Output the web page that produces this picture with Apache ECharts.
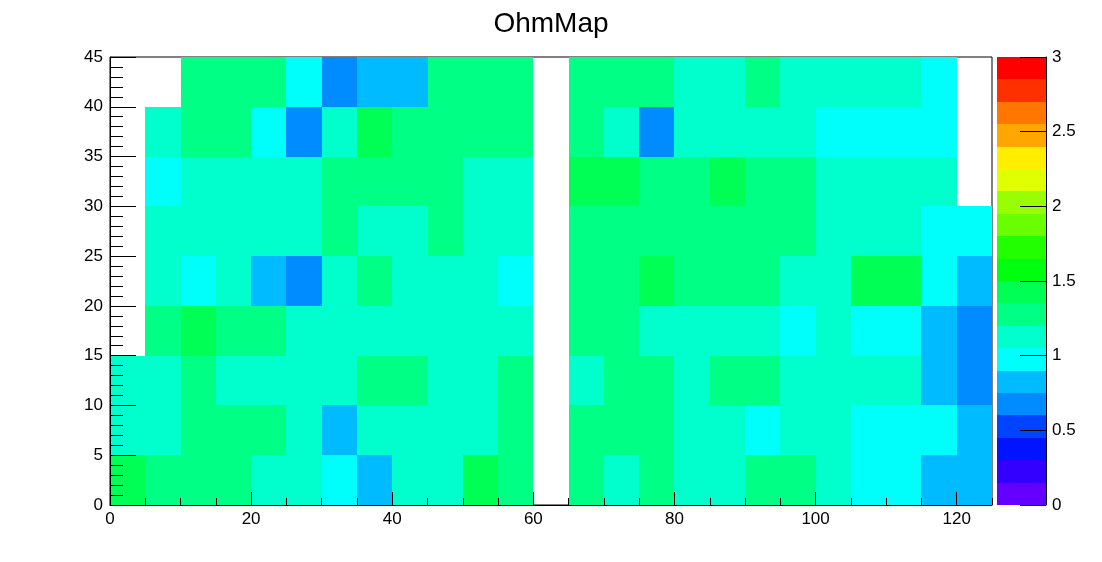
<!DOCTYPE html>
<html>
<head>
<meta charset="utf-8">
<script src="https://cdn.jsdelivr.net/npm/echarts@6/dist/echarts.min.js"></script>
<style>
  html, body { margin: 0; padding: 0; background: #fff; }
  #chart { width: 1102px; height: 562px; }
</style>
</head>
<body>
<div id="chart"></div>
<script>
// ---- data ----
const title = 'OhmMap';
const binWidthX = 5;
const binWidthY = 5;
const xBinLow = [0, 5, 10, 15, 20, 25, 30, 35, 40, 45, 50, 55, 60, 65, 70, 75, 80, 85, 90, 95, 100, 105, 110, 115, 120];
const yBinLow = [0, 5, 10, 15, 20, 25, 30, 35, 40];

// one array per y bin (bottom to top), one value per x bin; null = empty bin
const row0 = [1.42,1.28,1.28,1.28,1.12,1.12,0.98,0.82,1.12,1.12,1.42,1.28,null,1.28,1.12,1.28,1.12,1.12,1.28,1.28,1.12,0.98,0.98,0.82,0.82];
const row1 = [1.12,1.12,1.28,1.28,1.28,1.12,0.82,1.12,1.12,1.12,1.12,1.28,null,1.28,1.28,1.28,1.12,1.12,0.98,1.12,1.12,0.98,0.98,0.98,0.82];
const row2 = [1.12,1.12,1.28,1.12,1.12,1.12,1.12,1.28,1.28,1.12,1.12,1.28,null,1.12,1.28,1.28,1.12,1.28,1.28,1.12,1.12,1.12,1.12,0.82,0.68];
const row3 = [null,1.28,1.42,1.28,1.28,1.12,1.12,1.12,1.12,1.12,1.12,1.12,null,1.28,1.28,1.12,1.12,1.12,1.12,0.98,1.12,0.98,0.98,0.82,0.68];
const row4 = [null,1.12,0.98,1.12,0.82,0.68,1.12,1.28,1.12,1.12,1.12,0.98,null,1.28,1.28,1.42,1.28,1.28,1.28,1.12,1.12,1.42,1.42,0.98,0.82];
const row5 = [null,1.12,1.12,1.12,1.12,1.12,1.28,1.12,1.12,1.28,1.12,1.12,null,1.28,1.28,1.28,1.28,1.28,1.28,1.28,1.12,1.12,1.12,0.98,0.98];
const row6 = [null,0.98,1.12,1.12,1.12,1.12,1.28,1.28,1.28,1.28,1.12,1.12,null,1.42,1.42,1.28,1.28,1.42,1.28,1.28,1.12,1.12,1.12,1.12,null];
const row7 = [null,1.12,1.28,1.28,0.98,0.68,1.12,1.42,1.28,1.28,1.28,1.28,null,1.28,1.12,0.68,1.12,1.12,1.12,1.12,0.98,0.98,0.98,0.98,null];
const row8 = [null,null,1.28,1.28,1.28,0.98,0.68,0.82,0.82,1.28,1.28,1.28,null,1.28,1.28,1.28,1.12,1.12,1.28,1.12,1.12,1.12,1.12,0.98,null];
const rows = [row0, row1, row2, row3, row4, row5, row6, row7, row8];

// colour-scale contour levels (z axis)
const zLevels = [0, 0.15, 0.3, 0.45, 0.6, 0.75, 0.9, 1.05, 1.2, 1.35, 1.5, 1.65, 1.8, 1.95, 2.1, 2.25, 2.4, 2.55, 2.7, 2.85, 3];

// ---- style ----
const palette = ['#6300ff','#3300ff','#0014ff','#0044ff','#008bff','#00bbff','#00fffb','#00ffcc','#00ff85','#00ff55',
                 '#00ff0e','#22ff00','#69ff00','#99ff00','#e0ff00','#ffee00','#ffa700','#ff7700','#ff3000','#ff0000'];
const FONT = '"Liberation Sans", Arial, Helvetica, sans-serif';

// ---- build ----
const cellData = [];
rows.forEach((r, j) => {
  r.forEach((v, i) => {
    if (v !== null) cellData.push([xBinLow[i], yBinLow[j], v]);
  });
});
const barData = [];
for (let k = 0; k < zLevels.length - 1; k++) {
  barData.push([zLevels[k], zLevels[k + 1], (zLevels[k] + zLevels[k + 1]) / 2]);
}
const pieces = [];
for (let k = 0; k < zLevels.length - 1; k++) {
  pieces.push({ gte: zLevels[k], lt: zLevels[k + 1], color: palette[k] });
}
pieces[pieces.length - 1] = { gte: zLevels[zLevels.length - 2], lte: zLevels[zLevels.length - 1], color: palette[palette.length - 1] };

const chart = echarts.init(document.getElementById('chart'), null, { renderer: 'canvas' });
const tickStyle = { color: '#000', width: 1 };
const labelStyle = { color: '#000', fontSize: 17, fontFamily: FONT };

chart.setOption({
  animation: false,
  backgroundColor: '#fff',
  textStyle: { fontFamily: FONT },
  title: {
    text: title, left: 'center', top: 5,
    textStyle: { fontSize: 28, fontWeight: 'normal', color: '#000', fontFamily: FONT }
  },
  grid: [
    { left: 110, top: 57, width: 882, height: 448, show: true, borderColor: '#000', borderWidth: 1, backgroundColor: 'transparent' },
    { left: 997, top: 57, width: 49, height: 448, show: false }
  ],
  xAxis: [
    { type: 'value', gridIndex: 0, min: 0, max: 125, interval: 20, position: 'bottom', z: 10,
      axisLine: { show: true, onZero: false, lineStyle: tickStyle },
      axisTick: { show: true, inside: true, length: 13, lineStyle: tickStyle },
      axisLabel: Object.assign({ margin: 6, showMaxLabel: false }, labelStyle),
      splitLine: { show: false } },
    { type: 'value', gridIndex: 0, min: 0, max: 125, interval: 5, position: 'bottom', z: 10,
      axisLine: { show: false, onZero: false },
      axisTick: { show: true, inside: true, length: 7, lineStyle: tickStyle },
      axisLabel: { show: false }, splitLine: { show: false } },
    { type: 'value', gridIndex: 1, min: 0, max: 1, show: false, axisLine: { onZero: false } }
  ],
  yAxis: [
    { type: 'value', gridIndex: 0, min: 0, max: 45, interval: 5, position: 'left', z: 10,
      axisLine: { show: true, onZero: false, lineStyle: tickStyle },
      axisTick: { show: true, inside: true, length: 26, lineStyle: tickStyle },
      axisLabel: Object.assign({ margin: 7 }, labelStyle),
      splitLine: { show: false } },
    { type: 'value', gridIndex: 0, min: 0, max: 45, interval: 1, position: 'left', z: 10,
      axisLine: { show: false, onZero: false },
      axisTick: { show: true, inside: true, length: 13, lineStyle: tickStyle },
      axisLabel: { show: false }, splitLine: { show: false } },
    { type: 'value', gridIndex: 1, min: 0, max: 3, interval: 0.5, position: 'right', z: 10,
      axisLine: { show: true, onZero: false, lineStyle: tickStyle },
      axisTick: { show: true, inside: true, length: 26, lineStyle: tickStyle },
      axisLabel: Object.assign({ margin: 6 }, labelStyle),
      splitLine: { show: false } }
  ],
  visualMap: {
    type: 'piecewise', show: false, dimension: 2, seriesIndex: [0, 1],
    pieces: pieces
  },
  series: [
    {
      type: 'custom', xAxisIndex: 0, yAxisIndex: 0, data: cellData, clip: true,
      encode: { x: 0, y: 1 },
      renderItem: function (params, api) {
        const x0 = api.value(0), y0 = api.value(1);
        const p0 = api.coord([x0, y0 + binWidthY]);
        const p1 = api.coord([x0 + binWidthX, y0]);
        const x = Math.round(p0[0]), y = Math.round(p0[1]);
        return {
          type: 'rect',
          shape: { x: x, y: y, width: Math.round(p1[0]) - x, height: Math.round(p1[1]) - y },
          style: { fill: api.visual('color') }
        };
      }
    },
    {
      type: 'custom', xAxisIndex: 2, yAxisIndex: 2, data: barData,
      encode: { y: [0, 1] },
      renderItem: function (params, api) {
        const p0 = api.coord([0, api.value(1)]);
        const p1 = api.coord([1, api.value(0)]);
        const x = Math.round(p0[0]), y = Math.round(p0[1]);
        return {
          type: 'rect',
          shape: { x: x, y: y, width: Math.round(p1[0]) - x, height: Math.round(p1[1]) - y },
          style: { fill: api.visual('color') }
        };
      }
    }
  ]
});
</script>
</body>
</html>
